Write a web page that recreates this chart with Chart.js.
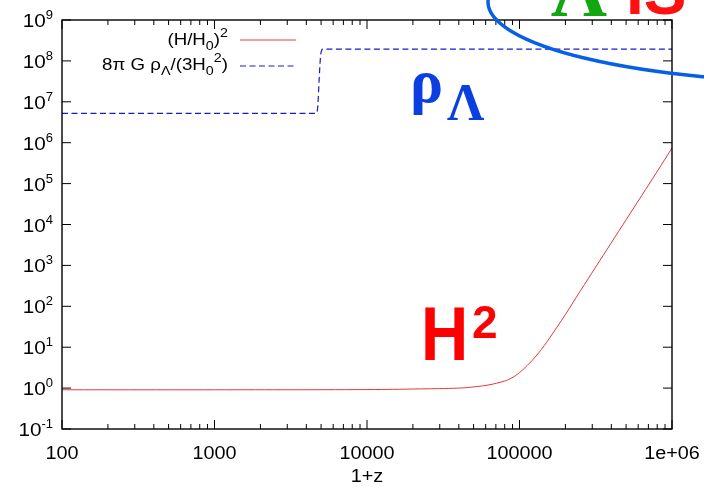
<!DOCTYPE html>
<html>
<head>
<meta charset="utf-8">
<title>H^2 и плотность вакуума</title>
<script src="https://cdn.jsdelivr.net/npm/chart.js@4.4.0/dist/chart.umd.min.js"></script>
<style>
  html, body { margin: 0; padding: 0; background: #fff; }
  canvas { display: block; }
</style>
</head>
<body>
<canvas id="hubbleChart" width="704" height="487"></canvas>
<script>
// Данные: (H/H0)^2 от 1+z
const zValues = [100, 1000, 10000, 22400, 39800, 50100, 63100, 79400, 89100, 100000, 112200,
  126000, 141300, 158500, 200000, 251000, 316000, 398000, 501000, 631000, 794000, 1000000];
const hubbleSq = [0.91, 0.91, 0.92, 0.955, 1.0, 1.07, 1.2, 1.48, 1.78, 2.4, 3.55,
  5.62, 9.55, 17.4, 63, 240, 912, 3470, 13200, 50100, 190000, 740000];

// Данные: 8πGρΛ/(3H0^2) — ступенька около 1+z ≈ 4800
const zLambda = [100, 4600, 4700, 4760, 4850, 4950, 5050, 5150, 1000000];
const rhoLambda = [5.2e6, 5.2e6, 5.6e6, 8e6, 3.2e7, 1.2e8, 1.85e8, 1.93e8, 1.93e8];

// Подписи осей
const xTicks = [100, 1000, 10000, 100000, 1000000];
const xTickLabels = ['100', '1000', '10000', '100000', '1e+06'];
const yTickExps = [-1, 0, 1, 2, 3, 4, 5, 6, 7, 8, 9];

const FONT = '"Liberation Sans", Arial, sans-serif';
const SERIF = '"Liberation Serif", "Times New Roman", serif';
const STRETCH = 1.15;

function toPoints(xs, ys) {
  return xs.map((x, i) => ({ x: x, y: ys[i] }));
}

// Текст из кусков с индексами (dy — сдвиг по вертикали, sx — растяжение)
function drawRich(ctx, segs, x, y, align, family, weight, sx) {
  let total = 0;
  segs.forEach(s => {
    ctx.font = weight + ' ' + s.size + 'px ' + family;
    s.w = ctx.measureText(s.t).width * (s.sx || sx);
    total += s.w;
  });
  let cx = x;
  if (align === 'right') cx = x - total;
  else if (align === 'center') cx = x - total / 2;
  segs.forEach(s => {
    ctx.font = weight + ' ' + s.size + 'px ' + family;
    ctx.save();
    ctx.translate(cx, y + (s.dy || 0));
    ctx.scale(s.sx || sx, 1);
    ctx.textAlign = 'left';
    ctx.textBaseline = 'alphabetic';
    ctx.fillText(s.t, 0, 0);
    ctx.restore();
    cx += s.w;
  });
}

// Рамка, засечки, подписи, легенда и надписи поверх графика
const decorPlugin = {
  id: 'decor',
  afterDraw(chart) {
    const ctx = chart.ctx;
    const area = chart.chartArea;
    const xs = chart.scales.x;
    const ys = chart.scales.y;

    ctx.save();
    ctx.strokeStyle = '#000';
    ctx.lineWidth = 1.4;
    ctx.strokeRect(area.left, area.top, area.right - area.left, area.bottom - area.top);

    // засечки по x (большие и малые), сверху и снизу
    ctx.lineWidth = 1;
    ctx.beginPath();
    for (let d = 100; d <= 1000000; d *= 10) {
      const px = xs.getPixelForValue(d);
      ctx.moveTo(px, area.bottom); ctx.lineTo(px, area.bottom - 9);
      ctx.moveTo(px, area.top); ctx.lineTo(px, area.top + 9);
      if (d < 1000000) {
        for (let k = 2; k <= 9; k++) {
          const mx = xs.getPixelForValue(d * k);
          ctx.moveTo(mx, area.bottom); ctx.lineTo(mx, area.bottom - 5);
          ctx.moveTo(mx, area.top); ctx.lineTo(mx, area.top + 5);
        }
      }
    }
    // засечки по y слева и справа
    yTickExps.forEach(e => {
      const py = ys.getPixelForValue(Math.pow(10, e));
      ctx.moveTo(area.left, py); ctx.lineTo(area.left + 9, py);
      ctx.moveTo(area.right, py); ctx.lineTo(area.right - 9, py);
    });
    ctx.stroke();

    ctx.fillStyle = '#000';
    xTicks.forEach((v, i) => {
      const px = xs.getPixelForValue(v);
      drawRich(ctx, [{ t: xTickLabels[i], size: 18 }], px, area.bottom + 30, 'center', FONT, 'normal', 1.1);
    });
    yTickExps.forEach(e => {
      const py = ys.getPixelForValue(Math.pow(10, e));
      drawRich(ctx, [
        { t: '10', size: 18 },
        { t: String(e), size: 13, dy: -8, sx: 1 }
      ], 53, py + 7, 'right', FONT, 'normal', STRETCH);
    });
    drawRich(ctx, [{ t: '1+z', size: 18 }], (area.left + area.right) / 2, 482, 'center', FONT, 'normal', 1.1);

    // легенда
    drawRich(ctx, [
      { t: '(H/H', size: 17 },
      { t: '0', size: 13, dy: 5 },
      { t: ')', size: 17 },
      { t: '2', size: 13, dy: -8 }
    ], 228, 45, 'right', FONT, 'normal', 1.1);
    drawRich(ctx, [
      { t: '8\u03c0 G \u03c1', size: 17 },
      { t: '\u039b', size: 13, dy: 5 },
      { t: '/(3H', size: 17 },
      { t: '0', size: 13, dy: 5 },
      { t: '2', size: 13, dy: -8 },
      { t: ')', size: 17 }
    ], 228, 70, 'right', FONT, 'normal', 1.1);

    ctx.lineWidth = 1;
    ctx.strokeStyle = '#e24040';
    ctx.beginPath(); ctx.moveTo(240, 40); ctx.lineTo(296, 40); ctx.stroke();
    ctx.strokeStyle = '#1a1acc';
    ctx.setLineDash([6, 3.5]);
    ctx.beginPath(); ctx.moveTo(240, 66); ctx.lineTo(296, 66); ctx.stroke();
    ctx.setLineDash([]);

    // крупные надписи
    ctx.fillStyle = '#0b3fe0';
    drawRich(ctx, [{ t: '\u03c1', size: 62 }], 410, 102, 'left', SERIF, 'bold', 1);
    drawRich(ctx, [{ t: '\u039b', size: 52 }], 447, 120, 'left', SERIF, 'bold', 1);

    ctx.fillStyle = '#ff0000';
    drawRich(ctx, [{ t: 'H', size: 76 }], 421, 360, 'left', FONT, 'bold', 0.86);
    drawRich(ctx, [{ t: '2', size: 46 }], 472, 338, 'left', FONT, 'bold', 1);

    ctx.fillStyle = '#12a612';
    drawRich(ctx, [{ t: '\u039b', size: 78 }], 551, 15, 'left', SERIF, 'bold', 1);
    ctx.fillStyle = '#ff1010';
    drawRich(ctx, [{ t: 'IS', size: 64 }], 626, 14, 'left', FONT, 'bold', 1);

    // дуга эллипса
    ctx.strokeStyle = '#075fe6';
    ctx.lineWidth = 3.5;
    ctx.beginPath();
    ctx.ellipse(824, 2, 336, 80, 0, 0, Math.PI * 2);
    ctx.stroke();
    ctx.restore();
  }
};

const ctx = document.getElementById('hubbleChart').getContext('2d');
new Chart(ctx, {
  type: 'line',
  data: {
    datasets: [{
      label: '(H/H0)^2',
      data: toPoints(zValues, hubbleSq),
      borderColor: '#e23838',
      borderWidth: 1,
      pointRadius: 0,
      tension: 0.4
    }, {
      label: '8\u03c0 G \u03c1\u039b/(3H0^2)',
      data: toPoints(zLambda, rhoLambda),
      borderColor: '#1a1acc',
      borderWidth: 1.2,
      borderDash: [6, 3.5],
      pointRadius: 0,
      cubicInterpolationMode: 'monotone'
    }]
  },
  options: {
    responsive: false,
    animation: false,
    layout: { padding: { top: 20, right: 32, left: 0, bottom: 0 } },
    plugins: {
      legend: { display: false },
      tooltip: { enabled: false }
    },
    scales: {
      x: {
        type: 'logarithmic',
        min: 100,
        max: 1000000,
        grid: { display: false },
        border: { display: false },
        ticks: { display: false },
        afterFit: s => { s.height = 58; }
      },
      y: {
        type: 'logarithmic',
        min: 0.1,
        max: 1e9,
        grid: { display: false },
        border: { display: false },
        ticks: { display: false },
        afterFit: s => { s.width = 62; }
      }
    }
  },
  plugins: [decorPlugin]
});
</script>
</body>
</html>
